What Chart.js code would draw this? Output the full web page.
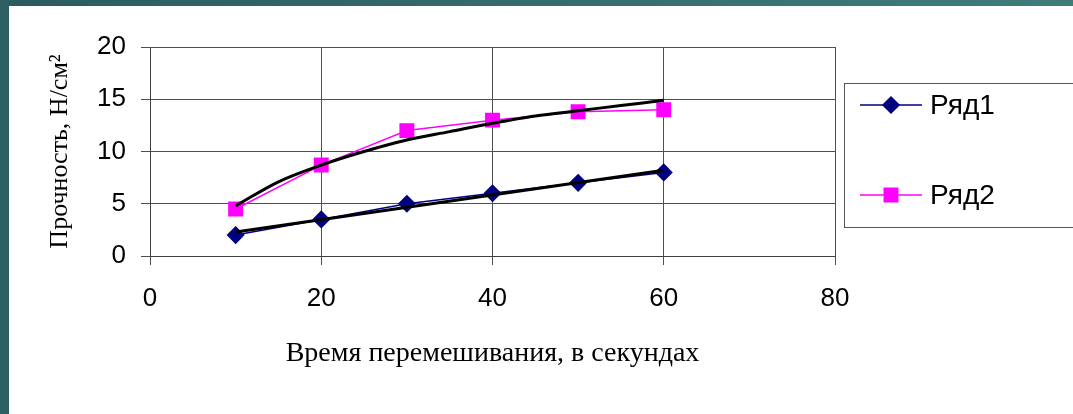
<!DOCTYPE html>
<html>
<head>
<meta charset="utf-8">
<script src="https://cdn.jsdelivr.net/npm/chart.js@4/dist/chart.umd.min.js"></script>
<style>
  html, body { margin: 0; padding: 0; background: #fff; overflow: hidden; }
  canvas { display: block; }
</style>
</head>
<body>
<canvas id="myChart" width="1073" height="414"></canvas>
<script>
// Data
var seconds = [10, 20, 30, 40, 50, 60];
var row1 = [2, 3.5, 5, 6, 7, 8];
var row2 = [4.5, 8.7, 12, 13, 13.8, 14];

// black trend lines
var trend1X = [10, 60];
var trend1Y = [2.3, 8.2];
var trend2X = [10, 15, 20, 25, 30, 35, 40, 45, 50, 55, 60];
var trend2Y = [4.8, 7.1, 8.7, 10.0, 11.1, 11.9, 12.7, 13.4, 13.9, 14.4, 14.9];

var seriesNames = ['Ряд1', 'Ряд2'];
var yTicks = [0, 5, 10, 15, 20];
var xTicks = [0, 20, 40, 60, 80];

function toPoints(xs, ys) {
  return xs.map(function(x, i) { return {x: x, y: ys[i]}; });
}

// teal frame of the slide + white page
var frame = {
  id: 'frame',
  beforeDraw: function(chart) {
    var ctx = chart.ctx;
    ctx.save();
    ctx.fillStyle = '#ffffff';
    ctx.fillRect(0, 0, chart.width, chart.height);
    var g = ctx.createLinearGradient(0, 0, chart.width, 0);
    g.addColorStop(0, '#2b5b60');
    g.addColorStop(1, '#3f7d79');
    ctx.fillStyle = g;
    ctx.fillRect(0, 0, chart.width, 6);
    ctx.fillStyle = '#2d5e62';
    ctx.fillRect(0, 0, 9, chart.height);
    ctx.restore();
  }
};

// Excel style legend box on the right
var legendBox = {
  id: 'legendBox',
  afterDraw: function(chart) {
    var ctx = chart.ctx;
    ctx.save();
    ctx.strokeStyle = '#555';
    ctx.lineWidth = 1;
    ctx.strokeRect(844.5, 83.5, 260, 144);
    var rowY = [105, 195];
    var k = 0;
    chart.data.datasets.forEach(function(ds) {
      if (ds.inLegend !== true) return;
      var y = rowY[k++];
      ctx.strokeStyle = ds.borderColor;
      ctx.lineWidth = 1.5;
      ctx.beginPath();
      ctx.moveTo(860, y);
      ctx.lineTo(922, y);
      ctx.stroke();
      ctx.fillStyle = ds.pointBackgroundColor;
      ctx.strokeStyle = ds.pointBackgroundColor;
      Chart.helpers.drawPoint(ctx, {pointStyle: ds.pointStyle, radius: ds.pointRadius, rotation: 0, borderWidth: 1}, 891, y);
      ctx.fillStyle = '#000';
      ctx.font = '28px "Liberation Sans", Arial, sans-serif';
      ctx.textBaseline = 'middle';
      ctx.textAlign = 'left';
      ctx.fillText(ds.label, 930, y + 1);
    });
    ctx.restore();
  }
};

var ctx = document.getElementById('myChart').getContext('2d');
var tickFont = {family: '"Liberation Sans", Arial, sans-serif', size: 26};
var yTitleFont = {family: '"Liberation Serif", "Times New Roman", serif', size: 26};
var xTitleFont = {family: '"Liberation Serif", "Times New Roman", serif', size: 28};

var myChart = new Chart(ctx, {
  type: 'line',
  data: {
    datasets: [{
      label: 'trend1',
      data: toPoints(trend1X, trend1Y),
      borderColor: '#000',
      borderWidth: 3,
      pointRadius: 0,
      order: 0
    }, {
      label: 'trend2',
      data: toPoints(trend2X, trend2Y),
      borderColor: '#000',
      borderWidth: 3,
      pointRadius: 0,
      cubicInterpolationMode: 'monotone',
      order: 0
    }, {
      label: seriesNames[0],
      data: toPoints(seconds, row1),
      borderColor: '#000080',
      borderWidth: 1.5,
      pointStyle: 'rectRot',
      pointRadius: 8,
      pointBackgroundColor: '#000080',
      pointBorderColor: '#000080',
      inLegend: true,
      order: 1
    }, {
      label: seriesNames[1],
      data: toPoints(seconds, row2),
      borderColor: '#ff00ff',
      borderWidth: 1.5,
      pointStyle: 'rect',
      pointRadius: 9.5,
      pointBackgroundColor: '#ff00ff',
      pointBorderColor: '#ff00ff',
      inLegend: true,
      order: 1
    }]
  },
  options: {
    responsive: false,
    animation: false,
    devicePixelRatio: 1,
    layout: {padding: {left: 45, right: 238, top: 47, bottom: 44}},
    plugins: {legend: {display: false}, tooltip: {enabled: false}},
    scales: {
      x: {
        type: 'linear',
        min: 0,
        max: 80,
        afterFit: function(scale) { scale.height = 114; },
        afterBuildTicks: function(scale) { scale.ticks = xTicks.map(function(v) { return {value: v}; }); },
        ticks: {color: '#000', font: tickFont, padding: 18, maxRotation: 0},
        grid: {color: '#505050', lineWidth: 1, tickLength: 9},
        border: {color: '#404040', width: 1},
        title: {display: true, text: 'Время перемешивания, в секундах', color: '#000', font: xTitleFont, padding: 0}
      },
      y: {
        min: 0,
        max: 20,
        afterFit: function(scale) { scale.width = 105; },
        afterBuildTicks: function(scale) { scale.ticks = yTicks.map(function(v) { return {value: v}; }); },
        ticks: {color: '#000', font: tickFont, padding: 15},
        grid: {color: '#505050', lineWidth: 1, tickLength: 9},
        border: {color: '#404040', width: 1},
        title: {display: true, text: 'Прочность, Н/см²', color: '#000', font: yTitleFont, padding: 0}
      }
    }
  },
  plugins: [frame, legendBox]
});
</script>
</body>
</html>
